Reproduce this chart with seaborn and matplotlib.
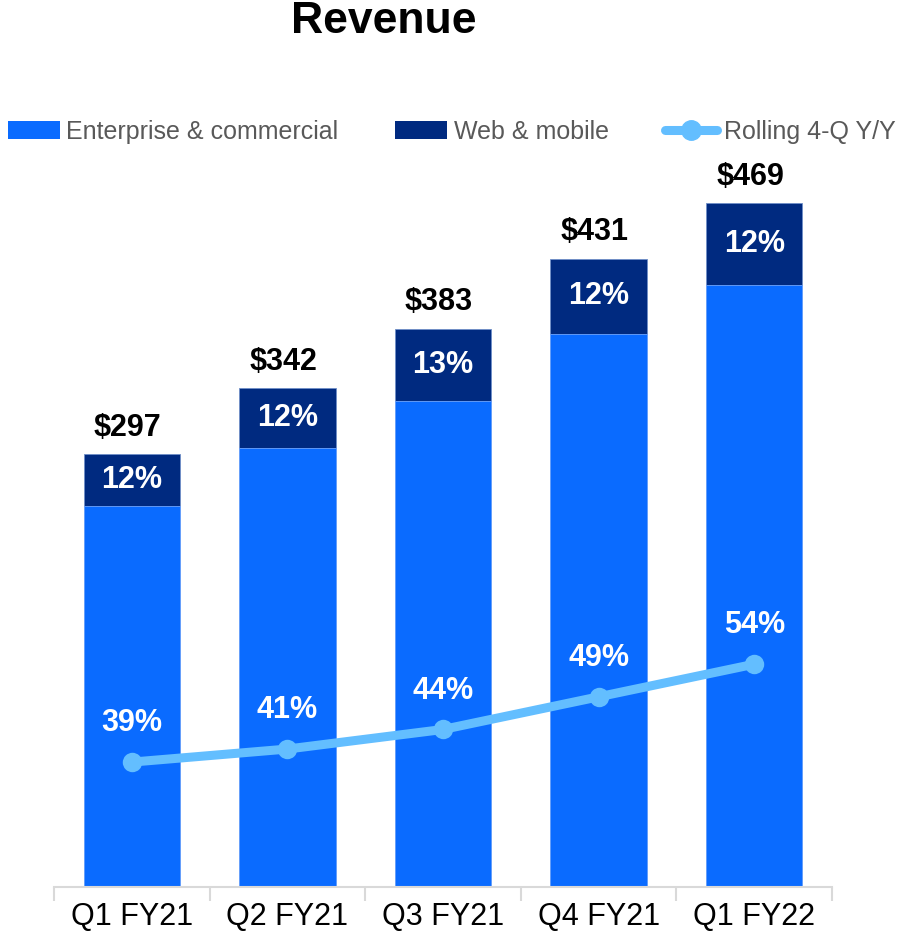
import numpy as np
import pandas as pd
import seaborn as sns
import matplotlib.pyplot as plt
from matplotlib.patches import Patch
from matplotlib.lines import Line2D

# values
quarters = ['Q1 FY21', 'Q2 FY21', 'Q3 FY21', 'Q4 FY21', 'Q1 FY22']
totals = [297, 342, 383, 431, 469]
web_mobile = [35.6, 41.0, 49.8, 51.7, 56.3]
enterprise = [261.4, 301.0, 333.2, 379.3, 412.7]
web_share = ['12%', '12%', '13%', '12%', '12%']
rolling_yoy = [39, 41, 44, 49, 54]

blue = '#0A6BFF'
navy = '#002A80'
light = '#63BEFF'

sns.set_style('white')
plt.rcParams['font.family'] = ['Liberation Sans', 'DejaVu Sans']

df = pd.DataFrame({'quarter': quarters, 'total': totals,
                   'enterprise': enterprise, 'yoy': rolling_yoy})

fig = plt.figure(figsize=(8.98, 9.35), dpi=100)
ax = fig.add_axes([0.0601, 0.0513, 0.8664, 0.7668])

# stacked bars: full height in navy, enterprise part drawn on top in blue
sns.barplot(data=df, x='quarter', y='total', color=navy, width=0.62,
            saturation=1, edgecolor='#6F8FC8', linewidth=0.6, ax=ax)
sns.barplot(data=df, x='quarter', y='enterprise', color=blue, width=0.62,
            saturation=1, edgecolor='#6FA6FF', linewidth=0.6, ax=ax)

ax.set_xlim(-0.5, 4.5)
ax.set_ylim(0, 491.8)
ax.set_xlabel('')
ax.set_ylabel('')
ax.set_yticks([])
for s in ['top', 'right', 'left']:
    ax.spines[s].set_visible(False)
ax.spines['bottom'].set_color('#D9D9D9')
ax.spines['bottom'].set_linewidth(1.5)
ax.tick_params(axis='x', which='major', bottom=False, length=0, pad=11,
               labelsize=22, labelcolor='black')
ax.set_xticks(np.arange(-0.5, 5, 1), minor=True)
ax.tick_params(axis='x', which='minor', bottom=True, length=10, width=1.5,
               color='#D9D9D9', direction='out')

for i in range(len(quarters)):
    ax.annotate(f'${totals[i]}', (i, totals[i]), xytext=(-3, 19),
                textcoords='offset points', ha='center', va='center',
                fontsize=22, fontweight='bold', color='black')
    ax.text(i, enterprise[i] + web_mobile[i] / 2, web_share[i],
            ha='center', va='center', fontsize=22, fontweight='bold',
            color='white')

# rolling 4-quarter growth on a second scale
ax2 = ax.twinx()
sns.lineplot(x=np.arange(len(quarters)), y=rolling_yoy, ax=ax2, color=light,
             linewidth=6.5, marker='o', markersize=14, markeredgewidth=0,
             zorder=5)
ax2.set_xlim(-0.5, 4.5)
ax2.set_ylim(19.86, 129.7)
ax2.set_yticks([])
for s in ax2.spines.values():
    s.set_visible(False)
for i, v in enumerate(rolling_yoy):
    ax2.annotate(f'{v}%', (i, v), xytext=(0, 28), textcoords='offset points',
                 ha='center', va='center', fontsize=22, fontweight='bold',
                 color='white')

fig.text(0.427, 0.977, 'Revenue', ha='center', va='center', fontsize=32,
         fontweight='bold', color='black')

handles = [Patch(facecolor=blue, edgecolor='none'),
           Patch(facecolor=navy, edgecolor='none'),
           Line2D([0], [0], color=light, linewidth=6.5, marker='o',
                  markersize=14)]
labels = ['Enterprise & commercial', 'Web & mobile', 'Rolling 4-Q Y/Y']
leg = fig.legend(handles, labels, loc='center left',
                 bbox_to_anchor=(0.003, 0.859), ncol=3, frameon=False,
                 fontsize=18, handlelength=2.1, handletextpad=0.25,
                 columnspacing=2.25, borderaxespad=0, borderpad=0.2)
for t in leg.get_texts():
    t.set_color('#595959')

fig.savefig('out.png', dpi=100)
